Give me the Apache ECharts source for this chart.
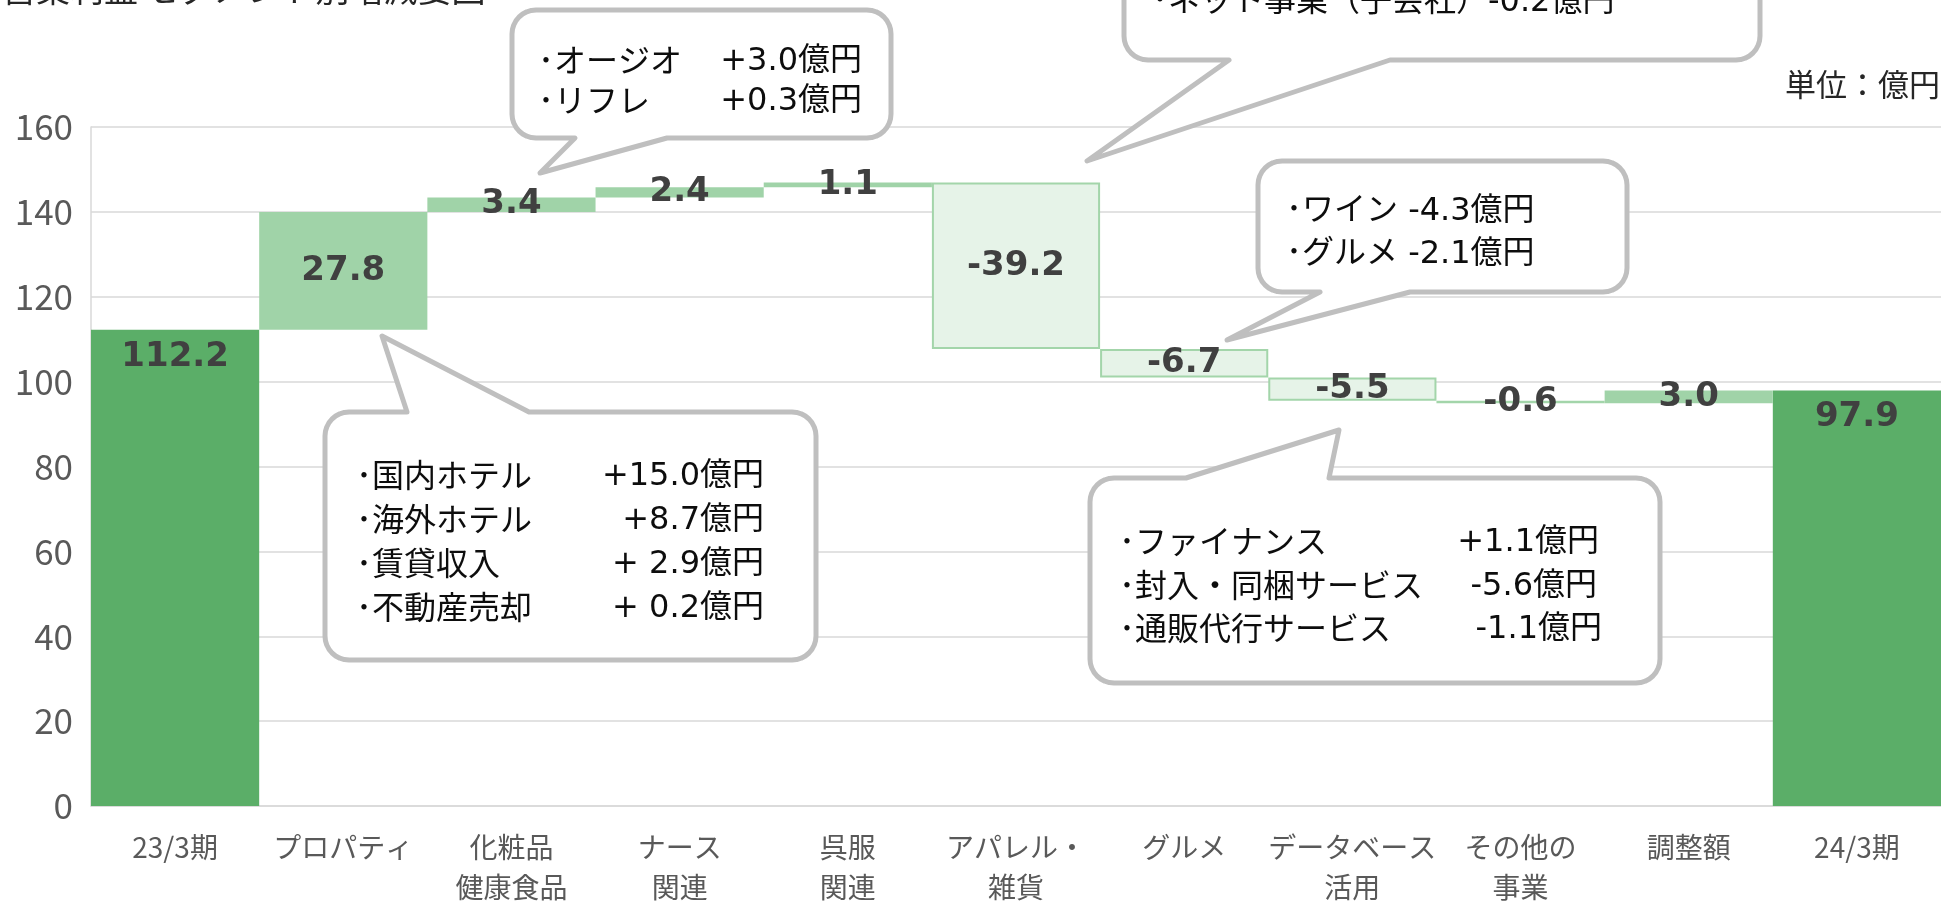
<!DOCTYPE html>
<html><head><meta charset="utf-8">
<script src="https://cdn.jsdelivr.net/npm/echarts@6/dist/echarts.min.js"></script>
<style>html,body{margin:0;padding:0;background:#fff;overflow:hidden}#c{width:1941px;height:907px}</style>
</head><body><div id="c"></div>
<script>
// ---- data ----
const categories = ['23/3期','プロパティ','化粧品\n健康食品','ナース\n関連','呉服\n関連','アパレル・\n雑貨','グルメ','データベース\n活用','その他の\n事業','調整額','24/3期'];
const startTotal = 112.2;
const deltas = [27.8, 3.4, 2.4, 1.1, -39.2, -6.7, -5.5, -0.6, 3.0];
const endTotal = 97.9;
const yMin = 0, yMax = 160, yStep = 20;

// build waterfall stacks
const baseData = [], totalData = [], upData = [], downData = [];
let run = startTotal;
baseData.push(0); totalData.push(startTotal); upData.push('-'); downData.push('-');
deltas.forEach(d => {
  const next = +(run + d).toFixed(1);
  baseData.push(Math.min(run, next));
  totalData.push('-');
  if (d >= 0) { upData.push(d); downData.push('-'); } else { upData.push('-'); downData.push(-d); }
  run = next;
});
baseData.push(0); totalData.push(endTotal); upData.push('-'); downData.push('-');

const JP = "'Noto Sans CJK JP', 'Noto Sans', sans-serif";
const MIX = "'DejaVu Sans', 'Noto Sans CJK JP', sans-serif";
const labelStyle = { fontFamily: 'DejaVu Sans', fontWeight: 'bold', fontSize: 34, color: '#404040' };

// ---- callouts ----
function bubblePoints(L, T, R, B, r, edge, a, b, tx, ty) {
  const pts = [];
  const arc = (cx, cy, a0, a1) => { for (let i = 0; i <= 8; i++) { const t = (a0 + (a1 - a0) * i / 8) * Math.PI / 180; pts.push([cx + r * Math.cos(t), cy + r * Math.sin(t)]); } };
  pts.push([L + r, T]);
  if (edge === 'top') { pts.push([a, T], [tx, ty], [b, T]); }
  arc(R - r, T + r, -90, 0);
  arc(R - r, B - r, 0, 90);
  if (edge === 'bottom') { pts.push([b, B], [tx, ty], [a, B]); }
  arc(L + r, B - r, 90, 180);
  arc(L + r, T + r, 180, 270);
  return pts;
}
function bubble(L, T, R, B, edge, a, b, tx, ty) {
  return { type: 'polygon', z: 100, shape: { points: bubblePoints(L, T, R, B, 24, edge, a, b, tx, ty) },
    style: { fill: '#fff', stroke: '#BFBFBF', lineWidth: 5, lineJoin: 'round' } };
}
function name(s, x, y) {
  return { type: 'text', z: 101, style: { text: s, x: x, y: y - 2, align: 'left', verticalAlign: 'middle', font: "32px " + JP, fill: '#0D0D0D' } };
}
function val(s, x, y, align) {
  return { type: 'text', z: 101, style: { text: s, x: x, y: y, align: align || 'right', verticalAlign: 'middle', font: "32px " + MIX, fill: '#0D0D0D' } };
}

const graphics = [
  // title (cut off at top)
  { type: 'text', z: 101, style: { text: '営業利益 セグメント別増減要因', x: 2, y: 6, align: 'left', verticalAlign: 'bottom', font: "34px " + JP, fill: '#262626' } },
  { type: 'text', z: 101, style: { text: '単位：億円', x: 1940, y: 84, align: 'right', verticalAlign: 'middle', font: "31px " + JP, fill: '#262626' } },
  // callout 1
  bubble(512, 10, 891, 138, 'bottom', 575, 667, 540, 173),
  name('･オージオ', 538, 62), val('+3.0億円', 862, 62),
  name('･リフレ', 538, 102), val('+0.3億円', 862, 102),
  // callout 2 (top cut off)
  bubble(1124, -120, 1760, 60, 'bottom', 1229, 1390, 1087, 161),
  val('･ネット事業（子会社）-0.2億円', 1152, 3, 'left'),
  // callout 3
  bubble(325, 412, 816, 660, 'top', 407, 529, 382, 336),
  name('･国内ホテル', 356, 477), val('+15.0億円', 764, 477),
  name('･海外ホテル', 356, 521), val('+8.7億円', 764, 521),
  name('･賃貸収入', 356, 565), val('+ 2.9億円', 764, 565),
  name('･不動産売却', 356, 609), val('+ 0.2億円', 764, 609),
  // callout 4
  bubble(1258, 161, 1627, 292, 'bottom', 1320, 1410, 1227, 340),
  val('･ワイン -4.3億円', 1286, 212, 'left'),
  val('･グルメ -2.1億円', 1286, 255, 'left'),
  // callout 5
  bubble(1090, 478, 1660, 683, 'top', 1186, 1329, 1339, 430),
  name('･ファイナンス', 1119, 543), val('+1.1億円', 1599, 543),
  name('･封入・同梱サービス', 1119, 587), val('-5.6億円', 1597, 587),
  name('･通販代行サービス', 1119, 630), val('-1.1億円', 1602, 630)
];

const chart = echarts.init(document.getElementById('c'), null, { renderer: 'canvas' });
chart.setOption({
  animation: false,
  backgroundColor: '#ffffff',
  grid: { left: 91, right: -2, top: 127, bottom: 100 },
  xAxis: {
    type: 'category', data: categories,
    axisTick: { show: false },
    axisLine: { show: true, lineStyle: { color: '#D9D9D9', width: 1.5 } },
    axisLabel: { interval: 0, fontFamily: JP, fontSize: 28, color: '#595959', lineHeight: 40, margin: 21 }
  },
  yAxis: {
    type: 'value', min: yMin, max: yMax, interval: yStep,
    axisLine: { show: true, lineStyle: { color: '#D9D9D9', width: 1.5 } },
    axisTick: { show: false },
    splitLine: { lineStyle: { color: '#D9D9D9', width: 1.5 } },
    axisLabel: { fontFamily: JP, fontSize: 35, color: '#595959', margin: 18 }
  },
  series: [
    { type: 'bar', stack: 'w', barCategoryGap: '0%', data: baseData, itemStyle: { color: 'rgba(0,0,0,0)' }, silent: true },
    { type: 'bar', stack: 'w', barCategoryGap: '0%', data: totalData, itemStyle: { color: '#5BAE68' },
      label: Object.assign({ show: true, position: 'insideTop', distance: 10, formatter: p => (+p.value).toFixed(1) }, labelStyle) },
    { type: 'bar', stack: 'w', barCategoryGap: '0%', data: upData, itemStyle: { color: '#A0D3A8' },
      label: Object.assign({ show: true, position: 'inside', formatter: p => deltas[p.dataIndex - 1].toFixed(1) }, labelStyle) },
    { type: 'bar', stack: 'w', barCategoryGap: '0%', data: downData, itemStyle: { color: '#E6F3E8', borderColor: '#A3D5AA', borderWidth: 2 },
      label: Object.assign({ show: true, position: 'inside', formatter: p => deltas[p.dataIndex - 1].toFixed(1) }, labelStyle) }
  ],
  graphic: { elements: graphics }
});
</script>
</body></html>
